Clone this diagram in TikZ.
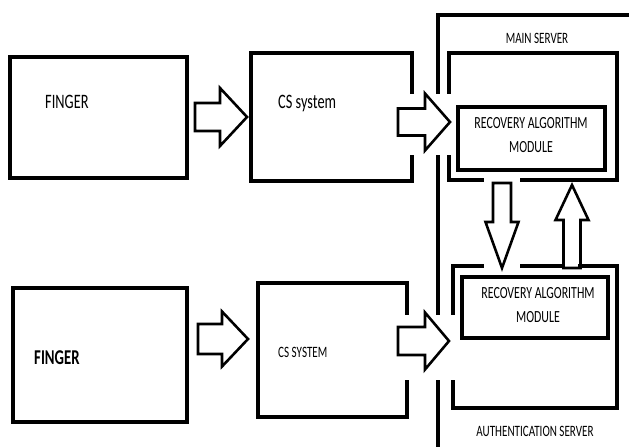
\documentclass[tikz,border=0pt]{standalone}
\usepackage{fontspec}
\setmainfont{Carlito}[FakeStretch=0.7]
\usetikzlibrary{positioning}

\tikzset{
  box/.style={line width=2.9pt, line cap=rect},
  blk/.style={line width=2.2pt, line join=miter},
  lbl/.style={inner sep=0pt, text=black, font=\fontsize{13.5}{16}\selectfont},
  pics/fatarrow/.style n args={4}{code={
    \draw[blk] (0,-#3) -- (#1-#2,-#3) -- (#1-#2,-#4) -- (#1,0)
      -- (#1-#2,#4) -- (#1-#2,#3) -- (0,#3) -- cycle;
  }}
}

\begin{document}
\begin{tikzpicture}[x=0.03cm, y=-0.03cm]
        \useasboundingbox (0,0) rectangle (629,446);

        % left column
        \draw [box] (10,57) rectangle (187,178);
        \draw [box] (412,92) -- (412,53) -- (251,53) -- (251,181) -- (412,181) -- (412,157);
        \draw [box] (13,288) rectangle (187,422);
        \draw [box] (407,313) -- (407,283) -- (258,283) -- (258,417) -- (407,417) -- (407,382);

        \node [lbl, anchor=west, font=\fontsize{17.5}{20}\selectfont] at (45,102) (finger1) {FINGER};
        \node [lbl, anchor=west, font=\fontsize{17.5}{20}\selectfont] at (278,103) (cs1) {CS system};
        \node [lbl, anchor=west, font=\bfseries\fontsize{18}{20}\selectfont] at (34,358) (finger2) {FINGER};
        \node [lbl, anchor=west] at (278,352) (cs2) {CS SYSTEM};

        % servers
        \draw [box] (629,15) -- (438,15) -- (438,92);
        \draw [box] (438,157) -- (438,313);
        \draw [box] (438,382) -- (438,446);

        \draw [box] (449,92) -- (449,53) -- (617,53) -- (617,180) -- (522,180);
        \draw [box] (482,180) -- (449,180) -- (449,157);
        \draw [box] (458,107) rectangle (605,170);

        \draw [box] (453,313) -- (453,266) -- (482,266);
        \draw [box] (522,266) -- (563,266);
        \draw [box] (580,266) -- (617,266) -- (617,408) -- (453,408) -- (453,382);
        \draw [box] (462,277) rectangle (608,338);

        \node [lbl] at (537,38) (mainsrv) {MAIN SERVER};
        \node [lbl] at (535,431) (authsrv) {AUTHENTICATION SERVER};
        \node [lbl, align=center, font=\fontsize{14.5}{21}\selectfont] at (531,135) (rec1) {RECOVERY ALGORITHM\\MODULE};
        \node [lbl, align=center, font=\fontsize{14.5}{21}\selectfont] at (538,305) (rec2) {RECOVERY ALGORITHM\\MODULE};

        % block arrows
        \pic at (195,117) {fatarrow={52}{27}{14}{29}};
        \pic at (398,122) {fatarrow={52}{25}{13.5}{28.5}};
        \pic at (198,339) {fatarrow={50}{26}{15}{27.5}};
        \pic at (398,341) {fatarrow={51}{24}{14}{28.5}};
        \pic [rotate=-90] at (502,183) {fatarrow={85}{46}{9}{16.5}};
        \pic [rotate=90] at (572,268) {fatarrow={83}{35}{8.5}{16.5}};
      \end{tikzpicture}
\end{document}
